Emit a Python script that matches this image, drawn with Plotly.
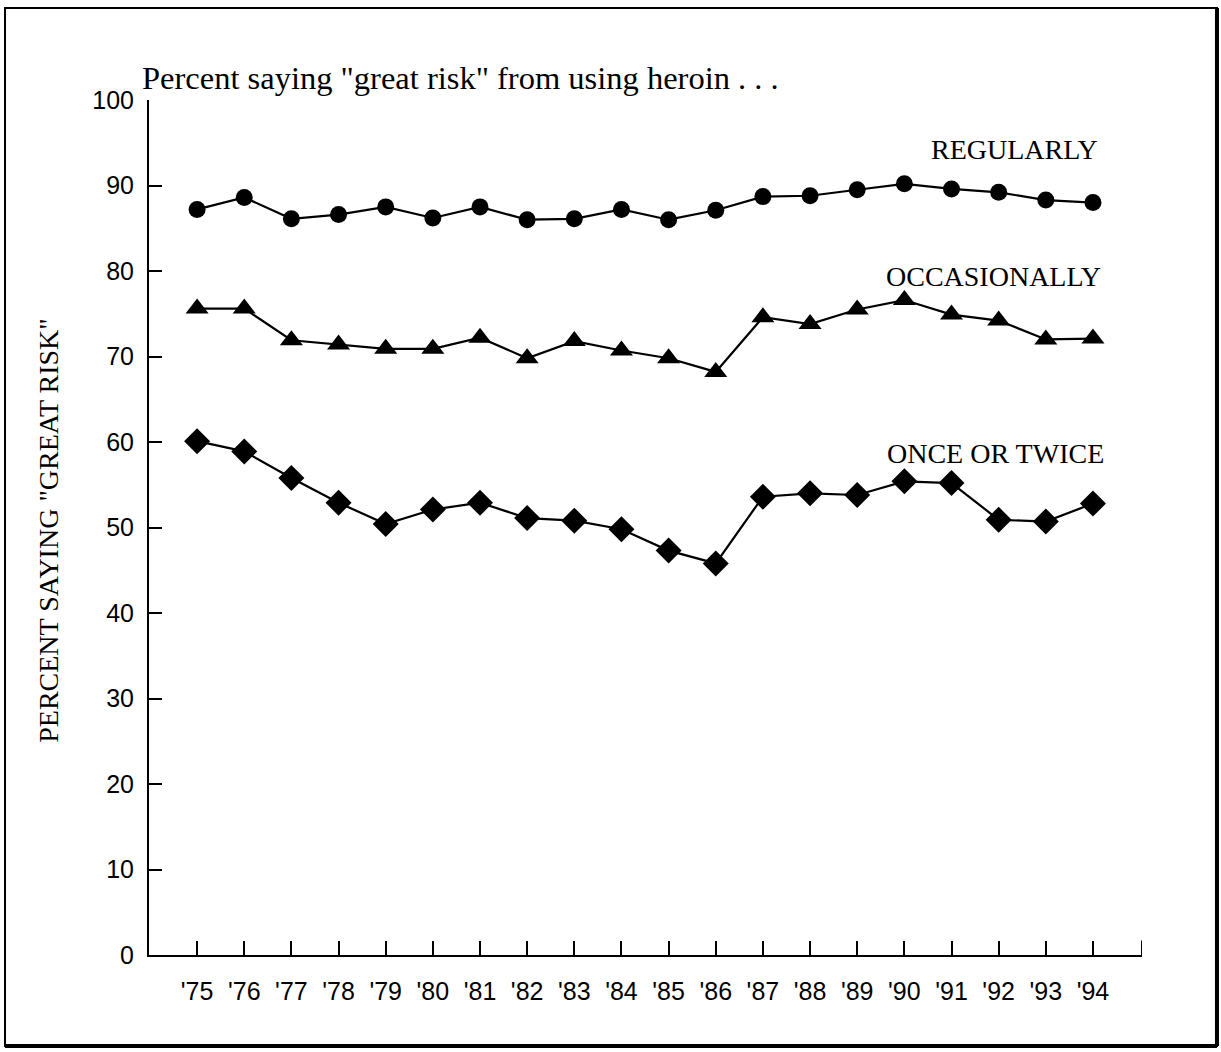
import plotly.graph_objects as go

# Survey years and tick labels
years = list(range(20))
year_labels = ["'75", "'76", "'77", "'78", "'79", "'80", "'81", "'82", "'83", "'84",
               "'85", "'86", "'87", "'88", "'89", "'90", "'91", "'92", "'93", "'94"]

# Percent saying "great risk" from using heroin
regularly = [87.2, 88.6, 86.1, 86.6, 87.5, 86.2, 87.5, 86.0, 86.1, 87.2,
             86.0, 87.1, 88.7, 88.8, 89.5, 90.2, 89.6, 89.2, 88.3, 88.0]
occasionally = [75.6, 75.6, 71.9, 71.4, 70.9, 70.9, 72.2, 69.8, 71.8, 70.7,
                69.8, 68.2, 74.6, 73.8, 75.5, 76.6, 74.9, 74.2, 72.0, 72.1]
once_or_twice = [60.1, 58.9, 55.8, 52.9, 50.4, 52.1, 52.9, 51.1, 50.8, 49.8,
                 47.3, 45.8, 53.6, 54.0, 53.8, 55.4, 55.2, 50.9, 50.7, 52.8]

series_names = ["REGULARLY", "OCCASIONALLY", "ONCE OR TWICE"]
series_label_pos = [(19.15, 94.2), (19.22, 79.3), (19.27, 58.7)]

SERIF = "Liberation Serif, Times New Roman, serif"
SANS = "Liberation Sans, Arial, sans-serif"

fig = go.Figure()

for values, symbol, size in [(regularly, "circle", 17),
                             (occasionally, "triangle-up", 20),
                             (once_or_twice, "diamond", 20)]:
    fig.add_trace(go.Scatter(
        x=years, y=values, mode="lines+markers",
        line=dict(color="black", width=2.2),
        marker=dict(symbol=symbol, size=size, color="black"),
        showlegend=False, hoverinfo="skip",
    ))

# Series labels
for name, (lx, ly) in zip(series_names, series_label_pos):
    fig.add_annotation(x=lx, y=ly, text=name, showarrow=False,
                       xanchor="right", yanchor="middle",
                       font=dict(family=SERIF, size=28, color="black"))

# Chart heading
fig.add_annotation(xref="paper", yref="paper", x=-0.009, y=1.026,
                   text='Percent saying "great risk" from using heroin . . .',
                   showarrow=False, xanchor="left", yanchor="middle",
                   font=dict(family=SERIF, size=32.5, color="black"))

# Vertical axis title
fig.add_annotation(xref="paper", yref="paper", x=-0.102, y=0.497,
                   text='PERCENT SAYING "GREAT RISK"', textangle=-90,
                   showarrow=False, xanchor="center", yanchor="middle",
                   font=dict(family=SERIF, size=28, color="black"))

x_range = [-1.02, 20.04]

fig.update_xaxes(
    range=x_range, tickmode="array", tickvals=years, ticktext=year_labels,
    ticks="inside", ticklen=14, tickwidth=1.5, tickcolor="black",
    showline=True, linecolor="black", linewidth=2,
    showgrid=False, zeroline=False, fixedrange=True,
    tickfont=dict(family=SANS, size=25, color="black"),
    ticklabelstandoff=13,
)
fig.update_yaxes(
    range=[0, 100], tickmode="array", tickvals=list(range(0, 101, 10)),
    ticks="inside", ticklen=13, tickwidth=1.5, tickcolor="black",
    showline=True, linecolor="black", linewidth=2,
    showgrid=False, zeroline=False, fixedrange=True,
    tickfont=dict(family=SANS, size=25, color="black"),
    ticklabelstandoff=8,
)

# Closing tick at the right end of the horizontal axis
fig.add_shape(type="line", xref="x", yref="paper",
              x0=x_range[1], x1=x_range[1], y0=0, y1=0.017,
              line=dict(color="black", width=2))

# Frame around the whole figure
fig.add_shape(type="rect", xref="paper", yref="paper",
              x0=-0.145, x1=1.0755, y0=-0.1065, y1=1.1076,
              line=dict(color="black", width=2))
fig.add_shape(type="line", xref="paper", yref="paper",
              x0=-0.145, x1=1.0755, y0=-0.1065, y1=-0.1065,
              line=dict(color="black", width=4))
fig.add_shape(type="line", xref="paper", yref="paper",
              x0=1.0755, x1=1.0755, y0=-0.1065, y1=1.1076,
              line=dict(color="black", width=4))

fig.update_layout(
    width=1221, height=1052,
    margin=dict(l=149, r=79, t=100, b=97),
    paper_bgcolor="white", plot_bgcolor="white",
)

fig.write_html("out.html", config={"displayModeBar": False})
